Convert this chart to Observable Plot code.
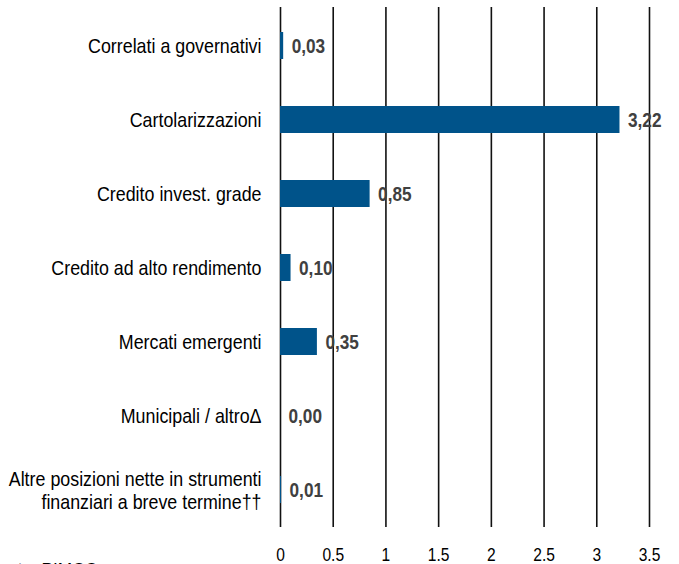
<!DOCTYPE html>
<html>
<head>
<meta charset="utf-8">
<script src="https://cdn.jsdelivr.net/npm/d3@7"></script>
<script src="https://cdn.jsdelivr.net/npm/@observablehq/plot@0.6"></script>
<style>
  html, body { margin: 0; padding: 0; background: #fff; overflow: hidden; }
  body { width: 679px; height: 564px; position: relative;
         font-family: "Liberation Sans", Arial, sans-serif; }
  #caption { position: absolute; left: -12px; top: 559px; font-size: 21px; line-height: 21px;
             color: #000; white-space: nowrap; transform: scaleX(0.82); transform-origin: 0 0; }
</style>
</head>
<body>
<div id="chart"></div>
<div id="caption">Fonte: PIMCO</div>
<script>
const categories = [
  "Correlati a governativi",
  "Cartolarizzazioni",
  "Credito invest. grade",
  "Credito ad alto rendimento",
  "Mercati emergenti",
  "Municipali / altro\u0394",
  "Altre posizioni nette in strumenti\nfinanziari a breve termine\u2020\u2020"
];
const values = [0.03, 3.22, 0.85, 0.10, 0.35, 0.00, 0.01];
const valueLabels = ["0,03", "3,22", "0,85", "0,10", "0,35", "0,00", "0,01"];
const xTicks = [0, 0.5, 1, 1.5, 2, 2.5, 3, 3.5];
const xTickLabels = ["0", "0.5", "1", "1.5", "2", "2.5", "3", "3.5"];

const data = categories.map((c, i) => ({category: c, value: values[i], label: valueLabels[i]}));
const font = "'Liberation Sans', Arial, sans-serif";

const chart = Plot.plot({
  width: 679,
  height: 564,
  marginLeft: 280,
  marginRight: 30,
  marginTop: 7,
  marginBottom: 37,
  style: {fontFamily: font, background: "#fff", color: "#000", overflow: "visible"},
  x: {domain: [0, 3.5], axis: null},
  y: {domain: categories, paddingInner: 0.64, paddingOuter: 0.32, axis: null},
  marks: [
    Plot.ruleX(xTicks, {stroke: "#111", strokeWidth: 1.6}),
    Plot.barX(data, {y: "category", x: "value", fill: "#00538a"}),
    Plot.text(data, {
      y: "category", x: "value", text: "label", dx: 8, textAnchor: "start",
      fontWeight: "bold", fill: "#404040", fontSize: 21, className: "vlabel"
    }),
    Plot.axisX(xTicks, {
      anchor: "bottom", tickSize: 0, tickPadding: 20, fontSize: 19,
      tickFormat: (d) => xTickLabels[xTicks.indexOf(d)], label: null, fill: "#000",
      className: "xlabel"
    }),
    Plot.axisY(categories, {
      anchor: "left", tickSize: 0, tickPadding: 19, fontSize: 21, label: null,
      fill: "#000", lineHeight: 1.1, className: "ylabel"
    })
  ]
});
// narrow (condensed) lettering: squeeze each text horizontally about its anchor point
chart.querySelectorAll("text").forEach(t => {
  const tr = t.getAttribute("transform");
  const isY = t.closest(".ylabel") !== null;
  if (tr) t.setAttribute("transform", tr + (isY ? " scale(0.85,1)" : " scale(0.82,1)"));
});
document.getElementById("chart").appendChild(chart);
</script>
</body>
</html>
